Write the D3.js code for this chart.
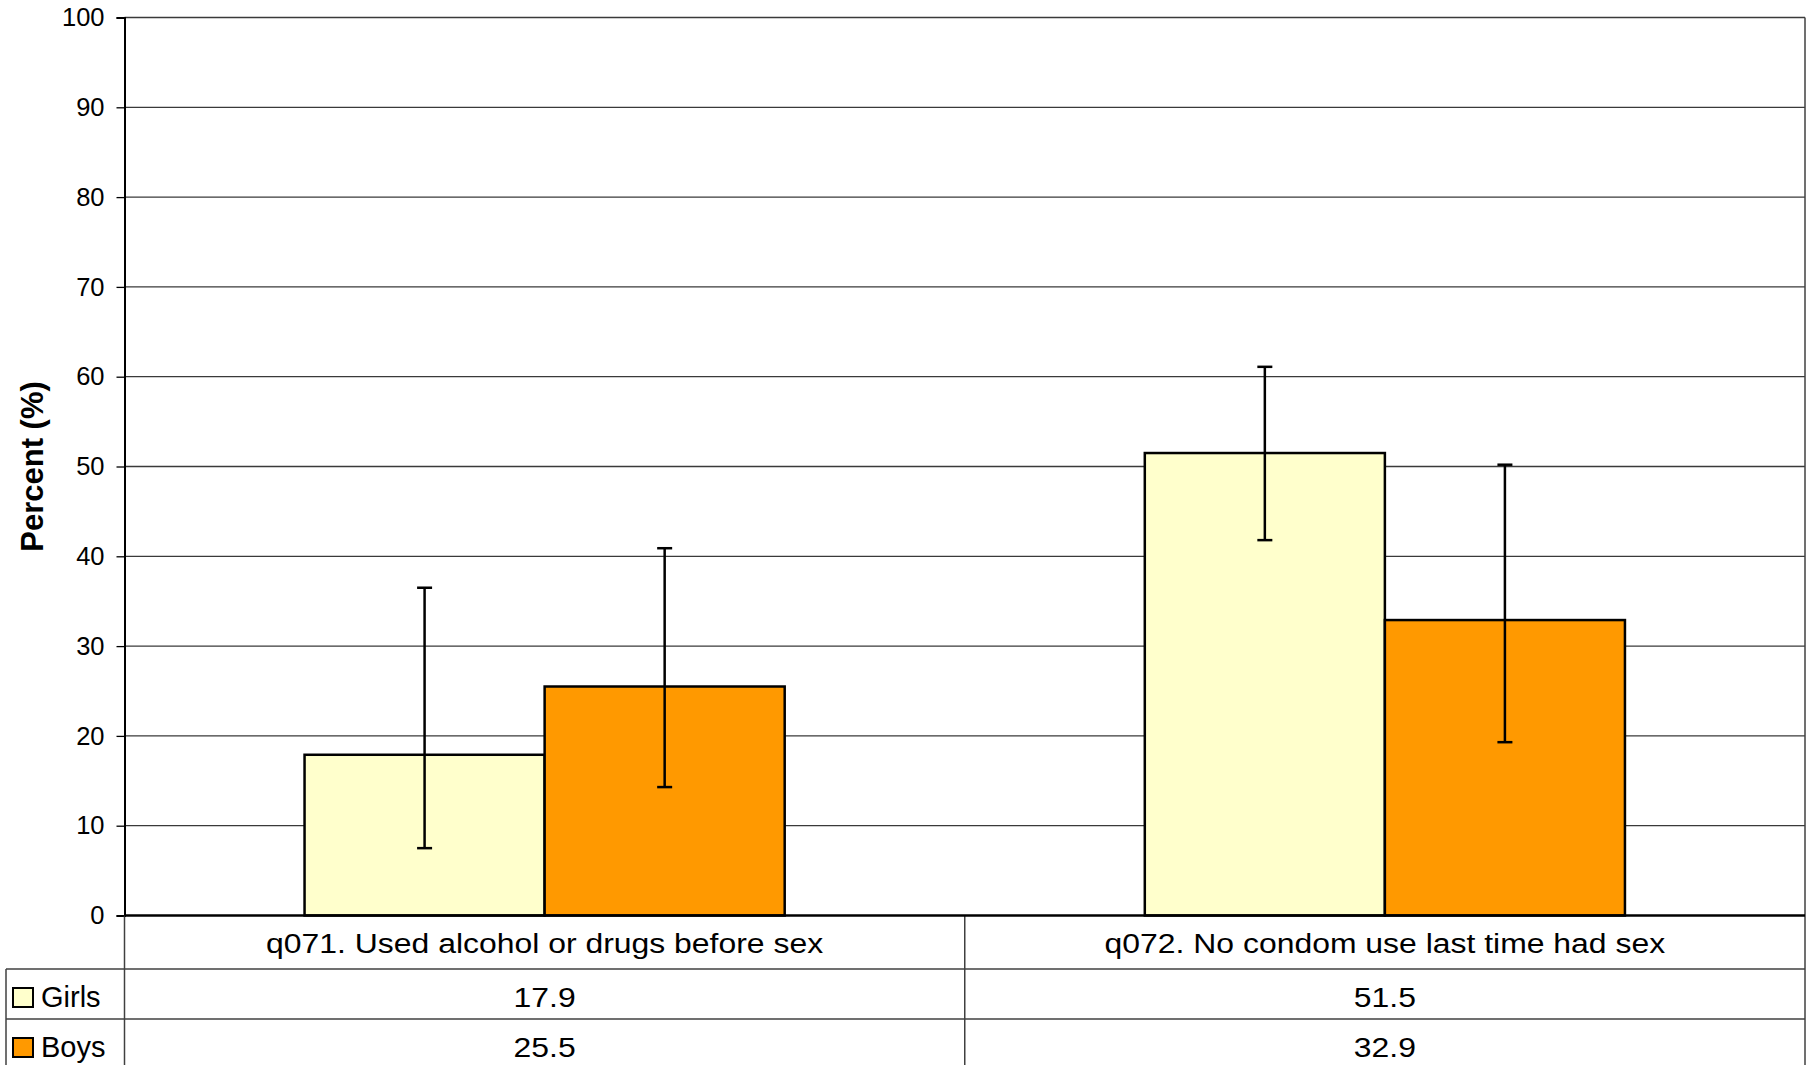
<!DOCTYPE html>
<html>
<head>
<meta charset="utf-8">
<script src="https://cdn.jsdelivr.net/npm/d3@7"></script>
<style>
  html, body { margin: 0; padding: 0; background: #fff; }
  text { font-family: "Liberation Sans", Arial, sans-serif; fill: #000; }
</style>
</head>
<body>
<div id="chart"></div>
<script>
// data
const categories = ["q071. Used alcohol or drugs before sex", "q072. No condom use last time had sex"];
const seriesNames = ["Girls", "Boys"];
const girlsValues = [17.9, 51.5];
const boysValues = [25.5, 32.9];
// confidence intervals (lower / upper)
const girlsLower = [7.5, 41.8];
const girlsUpper = [36.5, 61.1];
const boysLower = [14.3, 19.3];
const boysUpper = [40.9, 50.2];
const yTicks = [0, 10, 20, 30, 40, 50, 60, 70, 80, 90, 100];

const colors = { "Girls": "#ffffcc", "Boys": "#ff9900" };

const width = 1813;
const height = 1065;
const plot = { left: 124.5, right: 1805, top: 17.5, bottom: 915.5 };
const rows = { header: 969, girls: 1019, boys: 1070 };
const tableLeft = 6;
const SX = 1.14; // the table text is a bit wider than plain Arial

const svg = d3.select("#chart")
    .append("svg")
    .attr("width", width)
    .attr("height", height);

svg.append("rect").attr("width", width).attr("height", height).attr("fill", "#fff");

const y = d3.scaleLinear().domain([0, 100]).range([plot.bottom, plot.top]);

const x0 = d3.scaleBand()
    .domain(categories)
    .range([plot.left, plot.right])
    .padding(0);

const x1 = d3.scaleBand()
    .domain(seriesNames)
    .range([0, x0.bandwidth()])
    .paddingInner(0)
    .paddingOuter(0.75);

// gridlines
svg.append("g")
    .selectAll("line")
    .data(yTicks.filter(d => d > 0))
    .enter()
    .append("line")
    .attr("x1", plot.left)
    .attr("x2", plot.right)
    .attr("y1", d => y(d))
    .attr("y2", d => y(d))
    .attr("stroke", "#3a3a3a")
    .attr("stroke-width", 1.3);

// right border
svg.append("line")
    .attr("x1", plot.right).attr("x2", plot.right)
    .attr("y1", plot.top).attr("y2", rows.boys)
    .attr("stroke", "#404040").attr("stroke-width", 1.5);

// bars
const rowsData = [];
categories.forEach((c, i) => {
    rowsData.push({ cat: c, s: "Girls", v: girlsValues[i], lo: girlsLower[i], hi: girlsUpper[i] });
    rowsData.push({ cat: c, s: "Boys", v: boysValues[i], lo: boysLower[i], hi: boysUpper[i] });
});

svg.append("g")
    .selectAll("rect")
    .data(rowsData)
    .enter()
    .append("rect")
    .attr("x", d => x0(d.cat) + x1(d.s))
    .attr("y", d => y(d.v))
    .attr("width", x1.bandwidth())
    .attr("height", d => y(0) - y(d.v))
    .attr("fill", d => colors[d.s])
    .attr("stroke", "#000")
    .attr("stroke-width", 2.5);

// error bars
const eb = svg.append("g").attr("stroke", "#000").attr("stroke-width", 2.5);
const cx = d => x0(d.cat) + x1(d.s) + x1.bandwidth() / 2;
eb.selectAll("line.v").data(rowsData).enter().append("line")
    .attr("class", "v")
    .attr("x1", cx).attr("x2", cx)
    .attr("y1", d => y(d.lo)).attr("y2", d => y(d.hi));
eb.selectAll("line.hi").data(rowsData).enter().append("line")
    .attr("class", "hi")
    .attr("x1", d => cx(d) - 7.5).attr("x2", d => cx(d) + 7.5)
    .attr("y1", d => y(d.hi)).attr("y2", d => y(d.hi));
eb.selectAll("line.lo").data(rowsData).enter().append("line")
    .attr("class", "lo")
    .attr("x1", d => cx(d) - 7.5).attr("x2", d => cx(d) + 7.5)
    .attr("y1", d => y(d.lo)).attr("y2", d => y(d.lo));

// Y axis
const yAxis = svg.append("g")
    .attr("transform", `translate(${plot.left},0)`)
    .call(d3.axisLeft(y).tickValues(yTicks).tickSize(8).tickPadding(12));
yAxis.select(".domain").attr("stroke", "#000").attr("stroke-width", 2);
yAxis.selectAll(".tick line").attr("stroke", "#000").attr("stroke-width", 1.3);
yAxis.selectAll(".tick text")
    .style("font-size", "25.5px")
    .style("font-family", "'Liberation Sans', Arial, sans-serif")
    .attr("x", -20);

// left axis continues through the table header
svg.append("line")
    .attr("x1", plot.left).attr("x2", plot.left)
    .attr("y1", plot.bottom).attr("y2", rows.boys)
    .attr("stroke", "#404040").attr("stroke-width", 1.5);

// Y axis label
svg.append("text")
    .attr("transform", `translate(32,${(plot.top + plot.bottom) / 2}) rotate(-90)`)
    .attr("text-anchor", "middle")
    .attr("dy", "0.35em")
    .style("font-size", "31px")
    .style("font-weight", "bold")
    .text("Percent (%)");

// data table
const tbl = svg.append("g").attr("stroke", "#404040").attr("stroke-width", 1.5);
tbl.selectAll("line.div").data(categories.slice(1)).enter().append("line")
    .attr("class", "div")
    .attr("x1", d => x0(d)).attr("x2", d => x0(d))
    .attr("y1", plot.bottom).attr("y2", rows.boys);
tbl.selectAll("line.row").data([rows.header, rows.girls]).enter().append("line")
    .attr("class", "row")
    .attr("x1", tableLeft).attr("x2", plot.right)
    .attr("y1", d => d).attr("y2", d => d);
tbl.append("line")
    .attr("x1", tableLeft).attr("x2", tableLeft)
    .attr("y1", rows.header).attr("y2", rows.boys);

// X axis
svg.append("line")
    .attr("x1", plot.left).attr("x2", plot.right)
    .attr("y1", plot.bottom).attr("y2", plot.bottom)
    .attr("stroke", "#000").attr("stroke-width", 2.5);

function stretchedText(xPos, base, str, anchor) {
    return svg.append("text")
        .attr("x", xPos / SX)
        .attr("y", base)
        .attr("transform", `scale(${SX},1)`)
        .attr("text-anchor", anchor)
        .style("font-size", "28px")
        .text(str);
}

// category labels
categories.forEach(c => {
    stretchedText(x0(c) + x0.bandwidth() / 2, 953, c, "middle");
});

// values
const baseline = { "Girls": 1007, "Boys": 1057 };
categories.forEach((c, i) => {
    stretchedText(x0(c) + x0.bandwidth() / 2, baseline.Girls, girlsValues[i].toFixed(1), "middle");
    stretchedText(x0(c) + x0.bandwidth() / 2, baseline.Boys, boysValues[i].toFixed(1), "middle");
});

// legend keys
seriesNames.forEach(s => {
    svg.append("rect")
        .attr("x", 13)
        .attr("y", baseline[s] - 19)
        .attr("width", 20)
        .attr("height", 19)
        .attr("fill", colors[s])
        .attr("stroke", "#000")
        .attr("stroke-width", 2);
    svg.append("text")
        .attr("x", 41)
        .attr("y", baseline[s])
        .style("font-size", "29px")
        .text(s);
});
</script>
</body>
</html>
